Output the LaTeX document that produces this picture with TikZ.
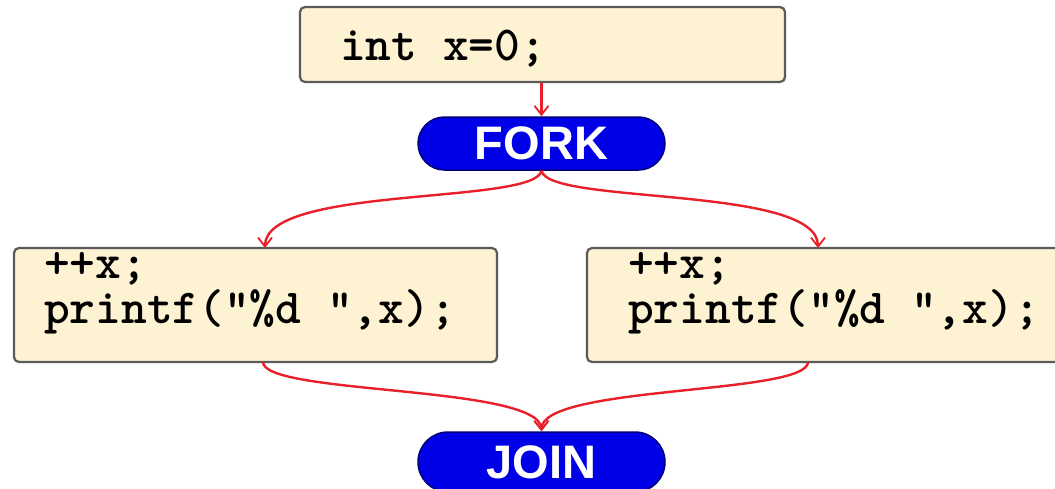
\documentclass[tikz,border=0pt]{standalone}
\usepackage{fontspec}
\setmainfont{Liberation Sans}
\usetikzlibrary{arrows.meta,shapes.misc}
\definecolor{boxfill}{HTML}{FDF2D2}
\definecolor{boxline}{HTML}{5A5A5A}
\definecolor{pillfill}{HTML}{0000E6}
\definecolor{pillline}{HTML}{00007A}
\definecolor{arrowred}{HTML}{E8202A}
\tikzset{
  codebox/.style={draw=boxline, line width=2.2pt, fill=boxfill, rounded corners=5pt, inner sep=0pt},
  codetext/.style={inner sep=0pt, font=\ttfamily\bfseries\fontsize{49}{45}\selectfont, align=left},
  pill/.style={rounded rectangle, draw=pillline, line width=1.5pt, fill=pillfill, text=white,
    font=\bfseries\fontsize{47}{47}\selectfont, minimum width=247pt, inner sep=0pt},
  conn/.style={draw=arrowred, line width=2.4pt, -{Straight Barb[length=9pt,width=14pt,line width=1.8pt]}}
}
\begin{document}
\begin{tikzpicture}[x=1pt,y=-1pt]
\useasboundingbox (0,0) rectangle (1055,488);
\fill[white] (0,0) rectangle (1055,488);
% boxes
\node[codebox, minimum width=485pt, minimum height=75pt] (init) at (542.5,44.5) {};
\node[codetext, anchor=base west] (initt) at (340,60) {int x=0;};
\node[codebox, minimum width=483pt, minimum height=114pt] (left) at (255.5,305) {};
\node[codetext, anchor=base west] (leftt1) at (44,278) {++x;};
\node[codetext, anchor=base west] (leftt2) at (44,323) {printf("\%d ",x);};
\node[codebox, minimum width=483pt, minimum height=114pt] (right) at (828.5,305) {};
\node[codetext, anchor=base west] (rightt1) at (628,278) {++x;};
\node[codetext, anchor=base west] (rightt2) at (628,323) {printf("\%d ",x);};
% pills
\node[pill, minimum height=53pt] (fork) at (541.5,143.5) {FORK};
\node[pill, minimum height=60pt] (join) at (541.5,462) {JOIN};
% connector end points
\coordinate (lin) at (265,248);
\coordinate (rin) at (818,248);
\coordinate (lout) at (263,362);
\coordinate (rout) at (808,362);
% connectors
\draw[conn] (init.south -| fork.north) -- (fork.north);
\draw[conn] (fork.south) .. controls (535,205) and (265,185) .. (lin);
\draw[conn] (fork.south) .. controls (548,205) and (818,185) .. (rin);
\draw[conn] (lout) .. controls (263,395) and (541,385) .. (join.north);
\draw[conn] (rout) .. controls (808,395) and (541,385) .. (join.north);
\end{tikzpicture}
\end{document}
